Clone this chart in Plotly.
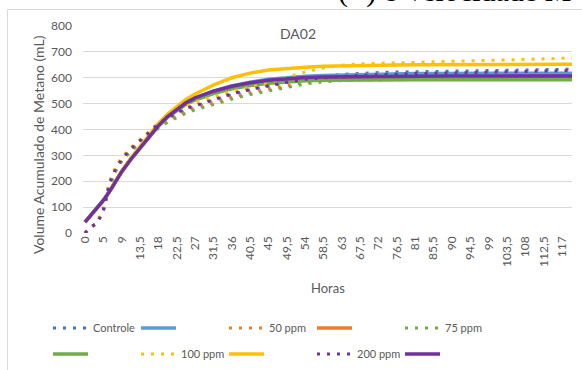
import plotly.graph_objects as go

hours = [0, 1.5, 3, 4.5, 6, 7.5, 9, 11.25, 13.5, 15.75, 18, 20.25, 22.5, 24.75, 27,
         31.5, 36, 40.5, 45, 49.5, 54, 58.5, 63, 67.5, 72, 76.5, 81, 85.5, 90, 94.5,
         99, 103.5, 108, 112.5, 117, 119.5]

tick_vals = [0, 4.5, 9, 13.5, 18, 22.5, 27, 31.5, 36, 40.5, 45, 49.5, 54, 58.5, 63,
             67.5, 72, 76.5, 81, 85.5, 90, 94.5, 99, 103.5, 108, 112.5, 117]
tick_text = ["0", "5", "9", "13,5", "18", "22,5", "27", "31,5", "36", "40,5", "45",
             "49,5", "54", "58,5", "63", "67,5", "72", "76,5", "81", "85,5", "90",
             "94,5", "99", "103,5", "108", "112,5", "117"]

# experimental (dotted)
controle_exp = [0, 22, 40, 85, 180, 240, 280, 320, 352, 385, 415, 440, 460, 478, 490,
                512, 535, 553, 568, 582, 595, 606, 613, 617, 620, 622, 623, 624, 625, 626,
                627, 628, 629, 630, 632, 633]
ppm50_exp = [0, 22, 40, 85, 185, 242, 280, 318, 350, 380, 408, 432, 452, 470, 484,
             505, 525, 542, 556, 570, 582, 591, 597, 600, 601, 602, 602, 603, 603, 603,
             604, 604, 604, 605, 605, 605]
ppm75_exp = [0, 22, 40, 85, 185, 240, 278, 316, 348, 378, 405, 428, 447, 463, 476,
             497, 517, 535, 549, 563, 576, 584, 589, 591, 592, 593, 593, 594, 594, 595,
             595, 596, 596, 597, 597, 597]
ppm100_exp = [0, 20, 45, 95, 200, 255, 292, 330, 362, 395, 425, 452, 472, 490, 506,
              527, 548, 563, 580, 602, 622, 638, 648, 654, 656, 658, 660, 661, 663, 665,
              667, 669, 671, 672, 674, 676]
ppm200_exp = [0, 24, 38, 90, 192, 248, 285, 325, 357, 390, 422, 446, 465, 482, 492,
              515, 538, 555, 570, 583, 594, 600, 605, 609, 612, 614, 616, 617, 619, 620,
              622, 623, 624, 626, 627, 628]

# fitted model (solid)
controle_fit = [42, 70, 97, 126, 160, 199, 237, 285, 327, 373, 415, 450, 478, 502, 521,
                548, 568, 583, 594, 601, 606, 609, 611, 613, 614, 615, 616, 616, 617, 617,
                617, 617, 617, 617, 617, 617]
ppm50_fit = [42, 70, 97, 126, 160, 199, 237, 285, 327, 373, 415, 450, 477, 500, 518,
             543, 561, 575, 585, 591, 595, 597, 598, 599, 599, 600, 600, 600, 600, 600,
             600, 600, 600, 600, 600, 600]
ppm75_fit = [42, 70, 97, 126, 160, 199, 237, 285, 327, 372, 413, 447, 474, 497, 514,
             539, 557, 570, 579, 585, 588, 590, 591, 592, 592, 592, 592, 592, 592, 592,
             592, 592, 592, 592, 592, 592]
ppm100_fit = [42, 70, 97, 126, 161, 200, 240, 290, 333, 380, 424, 460, 490, 516, 537,
              572, 600, 618, 630, 637, 641, 644, 646, 647, 648, 649, 650, 650, 651, 651,
              651, 652, 652, 652, 652, 652]
ppm200_fit = [42, 70, 97, 126, 160, 199, 237, 285, 327, 373, 415, 450, 478, 503, 522,
              548, 567, 581, 590, 597, 601, 603, 604, 605, 606, 606, 607, 607, 607, 607,
              607, 607, 607, 607, 607, 607]

series = [
    ("Controle", controle_exp, controle_fit, "#4472C4", "#5B9BD5"),
    ("50 ppm", ppm50_exp, ppm50_fit, "#ED7D31", "#ED7D31"),
    ("75 ppm", ppm75_exp, ppm75_fit, "#70AD47", "#70AD47"),
    ("100 ppm", ppm100_exp, ppm100_fit, "#FFC000", "#FFC000"),
    ("200 ppm", ppm200_exp, ppm200_fit, "#7030A0", "#7030A0"),
]

FONT = "Lato"
GREY = "#595959"

fig = go.Figure()
k = 0
for name, exp, fit, c_exp, c_fit in series:
    leg_a = "legend" if k < 5 else "legend2"
    fig.add_trace(go.Scatter(x=hours, y=exp, mode="lines", name=name,
                             line=dict(color=c_exp, width=3, dash="3px,7px"),
                             legend=leg_a))
    k += 1
    leg_b = "legend" if k < 5 else "legend2"
    fig.add_trace(go.Scatter(x=hours, y=fit, mode="lines", name="",
                             line=dict(color=c_fit, width=3.5),
                             legend=leg_b))
    k += 1

W, H = 582, 370
L, R, T, B = 83, 10, 26, 137
pw = W - L - R
ph = H - T - B

def px2x(px):
    return (px - L) / pw

def py2y(py):
    return (H - B - py) / ph

legend_common = dict(orientation="h", xanchor="left", yanchor="middle",
                     font=dict(family=FONT, size=11, color=GREY),
                     bgcolor="rgba(0,0,0,0)", entrywidth=38, entrywidthmode="pixels",
                     itemwidth=35, tracegroupgap=0)

fig.update_layout(
    width=W, height=H,
    margin=dict(l=L, r=R, t=T, b=B, autoexpand=False),
    paper_bgcolor="white", plot_bgcolor="white",
    showlegend=True,
    legend=dict(x=px2x(48), y=py2y(328), **legend_common),
    legend2=dict(x=px2x(48), y=py2y(354), **legend_common),
    xaxis=dict(range=[-0.49, 119.45], tickmode="array", tickvals=tick_vals,
               ticktext=tick_text, tickangle=-90, showgrid=False, zeroline=False,
               showline=False, ticks="", tickfont=dict(family=FONT, size=12, color=GREY)),
    yaxis=dict(range=[0, 800], dtick=100, tick0=0, showgrid=True, gridcolor="#D9D9D9",
               gridwidth=1, zeroline=False, showline=False, ticks="",
               ticklabelstandoff=10,
               tickfont=dict(family=FONT, size=12, color=GREY)),
    annotations=[
        dict(text="DA02", xref="paper", yref="paper", x=px2x(298), y=py2y(33),
             xanchor="center", yanchor="middle", showarrow=False,
             font=dict(family=FONT, size=14, color=GREY)),
        dict(text="Volume Acumulado de Metano (mL)", xref="paper", yref="paper",
             x=px2x(38), y=py2y(145), textangle=-90, xanchor="center", yanchor="middle",
             showarrow=False, font=dict(family=FONT, size=14, color=GREY)),
        dict(text="Horas", xref="paper", yref="paper", x=px2x(328), y=py2y(288),
             xanchor="center", yanchor="middle", showarrow=False,
             font=dict(family=FONT, size=13, color=GREY)),
        dict(text="(<span style='color:#4472C4'>■</span>) e Velocidade M", xref="paper",
             yref="paper", x=px2x(336), y=py2y(-9), xanchor="left", yanchor="middle",
             showarrow=False, font=dict(family="Liberation Serif", size=30, color="black")),
    ],
    shapes=[
        dict(type="rect", xref="paper", yref="paper", x0=px2x(7.5), x1=px2x(600),
             y0=py2y(400), y1=py2y(9.5), line=dict(color="#D9D9D9", width=1),
             fillcolor="rgba(0,0,0,0)", layer="below"),
    ],
)

fig.write_html("out.html", config={"displayModeBar": False},
               post_script="document.body.style.margin='0';")
